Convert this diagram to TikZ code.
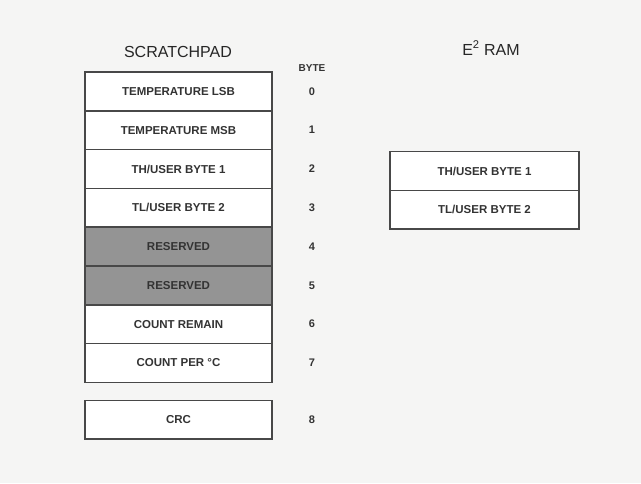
\documentclass[tikz,border=0pt]{standalone}
\usepackage{fontspec}
\setmainfont{Liberation Sans}
\usetikzlibrary{positioning}
\definecolor{paper}{RGB}{245,245,244}
\definecolor{reservedgray}{RGB}{148,148,148}
\definecolor{edgegray}{RGB}{72,72,72}

\begin{document}
\begin{tikzpicture}[x=1pt, y=-1pt,
  cell/.style={draw=edgegray, line width=1.6pt, fill=white, minimum width=187pt, minimum height=38.8pt,
    inner sep=0pt, outer sep=0pt, font=\fontsize{11.5}{13}\selectfont\bfseries, text=black!80},
  reserved/.style={cell, fill=reservedgray},
  bytenum/.style={font=\fontsize{11}{13}\selectfont\bfseries, text=black!80},
  title/.style={font=\fontsize{16}{18}\selectfont, text=black!85}]
\fill[paper] (0,0) rectangle (641,483);

% scratchpad column
\node[title] (padtitle) at (178,52) {SCRATCHPAD};
\node[bytenum, font=\fontsize{10}{12}\selectfont\bfseries] (bytetitle) at (312,68) {BYTE};
\node[cell] (pad0) at (178.5,91.4) {TEMPERATURE LSB};
\node[cell, below=0pt of pad0] (pad1) {TEMPERATURE MSB};
\node[cell, below=0pt of pad1] (pad2) {TH/USER BYTE 1};
\node[cell, below=0pt of pad2] (pad3) {TL/USER BYTE 2};
\node[reserved, below=0pt of pad3] (pad4) {RESERVED};
\node[reserved, below=0pt of pad4] (pad5) {RESERVED};
\node[cell, below=0pt of pad5] (pad6) {COUNT REMAIN};
\node[cell, below=0pt of pad6] (pad7) {COUNT PER °C};
\node[cell, below=18pt of pad7] (pad8) {CRC};

\foreach \i in {0,...,8}
  \node[bytenum] (byte\i) at ([xshift=40pt]pad\i.east) {\i};

% eeprom column
\node[title] (eetitle) at (491,48) {E\textsuperscript{2} RAM};
\node[cell, minimum width=189pt] (ee0) at ([xshift=306pt, yshift=-2pt]pad2.center) {TH/USER BYTE 1};
\node[cell, minimum width=189pt, below=0pt of ee0] (ee1) {TL/USER BYTE 2};
\end{tikzpicture}
\end{document}
